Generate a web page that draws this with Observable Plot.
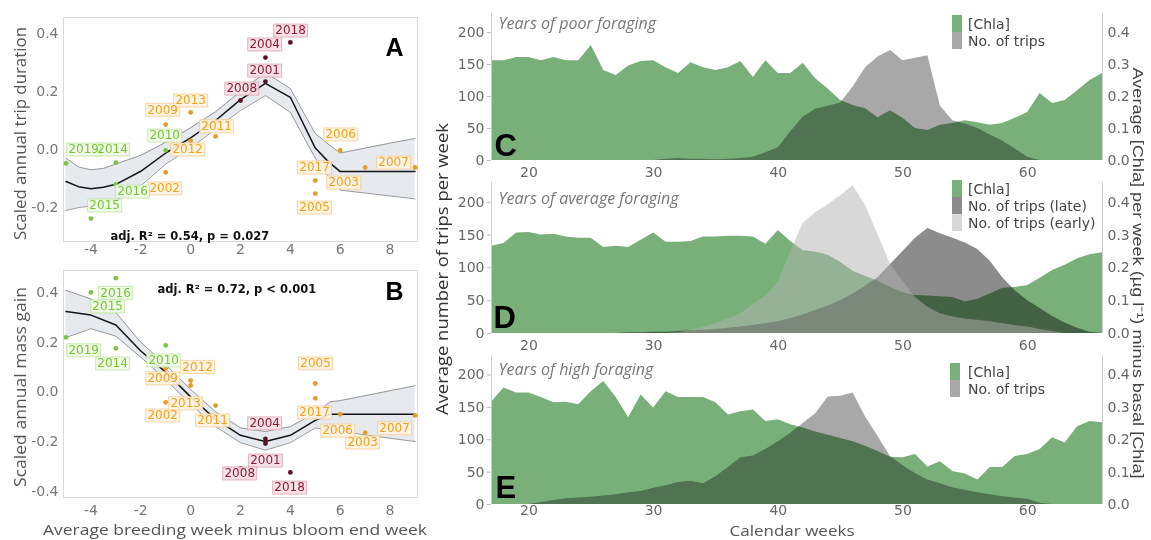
<!DOCTYPE html>
<html>
<head>
<meta charset="utf-8">
<script src="https://cdn.jsdelivr.net/npm/d3@7"></script>
<script src="https://cdn.jsdelivr.net/npm/@observablehq/plot@0.6"></script>
<style>
  body { margin: 0; background: #fff; }
  #root { position: relative; width: 1151px; height: 540px; overflow: hidden; background: #fff; }
</style>
</head>
<body>
<div id="root"></div>
<script>
// ---------------- DATA: panels A & B ----------------
const years     = [2001,2002,2003,2004,2005,2006,2007,2008,2009,2010,2011,2012,2013,2014,2015,2016,2017,2018,2019];
const foraging  = ["late","avg","avg","late","avg","avg","avg","late","avg","early","avg","avg","avg","early","early","early","avg","late","early"];
const weekDiff  = [3,-1,7,3,5,6,9,2,-1,-1,1,0,0,-3,-4,-3,5,4,-5];
const tripDur   = [0.234,-0.079,-0.062,0.317,-0.152,-0.003,-0.062,0.169,0.086,-0.003,0.045,0.03,0.128,-0.045,-0.238,-0.12,-0.107,0.369,-0.048];
const massGain  = [-0.208,-0.042,-0.164,-0.19,0.034,-0.09,-0.095,-0.309,0.095,0.188,-0.055,0.046,0.026,0.176,0.402,0.459,-0.026,-0.325,0.22];

const fitA_x   = [-5,-4.5,-4,-3.5,-3,-2,-1,0,1,2,3,4,5,5.5,6,7,8,9];
const fitA_mid = [-0.11,-0.128,-0.135,-0.13,-0.12,-0.075,-0.012,0.04,0.1,0.172,0.228,0.18,0.005,-0.04,-0.076,-0.076,-0.076,-0.076];
const fitA_up  = [-0.03,-0.06,-0.07,-0.065,-0.05,-0.02,0.025,0.075,0.13,0.2,0.265,0.21,0.055,0.02,-0.012,0.005,0.022,0.038];
const fitA_lo  = [-0.21,-0.2,-0.195,-0.185,-0.175,-0.125,-0.05,0.005,0.07,0.135,0.186,0.128,-0.03,-0.09,-0.14,-0.15,-0.16,-0.17];

const fitB_x   = [-5,-4,-3,-2,-1,0,1,2,3,4,5,5.6,6,7,8,9];
const fitB_mid = [0.325,0.31,0.27,0.165,0.08,-0.02,-0.11,-0.175,-0.2,-0.175,-0.115,-0.09,-0.09,-0.09,-0.09,-0.09];
const fitB_up  = [0.41,0.375,0.32,0.2,0.11,0.01,-0.08,-0.145,-0.16,-0.14,-0.085,-0.04,-0.035,-0.015,0.005,0.025];
const fitB_lo  = [0.22,0.255,0.225,0.14,0.05,-0.05,-0.14,-0.205,-0.235,-0.205,-0.145,-0.155,-0.16,-0.173,-0.187,-0.2];

const breedTicks = [-4,-2,0,2,4,6,8];
const durTicks   = [-0.2,0,0.2,0.4];
const gainTicks  = [-0.4,-0.2,0,0.2,0.4];
const statA = "adj. R\u00b2 = 0.54, p = 0.027";
const statB = "adj. R\u00b2 = 0.72, p < 0.001";

// ---------------- DATA: panels C, D, E ----------------
const calendarWeeks = [17,18,19,20,21,22,23,24,25,26,27,28,29,30,31,32,33,34,35,36,37,38,39,40,41,42,43,44,45,46,47,48,49,50,51,52,53,54,55,56,57,58,59,60,61,62,63,64,65,66];

const chlaPoor  = [.312,.312,.322,.322,.312,.322,.312,.312,.36,.282,.266,.296,.31,.312,.29,.272,.306,.29,.282,.29,.31,.26,.312,.272,.272,.304,.256,.224,.188,.172,.162,.134,.156,.132,.1,.094,.11,.116,.124,.118,.11,.116,.132,.15,.21,.178,.188,.218,.25,.272];
const tripsPoor = [0,0,0,0,0,0,0,0,0,0,0,0,0,0,2,3,2,2,1,2,3,5,12,20,45,68,80,85,90,115,145,162,172,156,160,164,85,62,57,50,40,30,18,5,0,0,0,0,0,0];

const chlaAvg    = [.266,.274,.306,.308,.3,.302,.294,.29,.29,.262,.266,.262,.284,.306,.278,.278,.28,.294,.294,.296,.296,.294,.272,.314,.28,.252,.248,.238,.216,.19,.174,.16,.14,.124,.116,.114,.112,.11,.096,.104,.12,.138,.14,.146,.168,.192,.208,.228,.24,.246];
const tripsLate  = [0,0,0,0,0,0,0,0,0,0,0,1,1,2,2,3,4,5,6,8,10,12,15,18,23,28,35,42,50,60,72,85,105,125,145,160,152,145,138,128,110,85,65,50,38,26,16,8,2,0];
const tripsEarly = [0,0,0,0,0,0,0,0,0,0,0,0,0,0,0,1,5,10,15,22,30,45,57,78,125,168,184,196,210,225,195,150,105,80,55,40,30,25,22,20,18,15,12,10,6,3,0,0,0,0];

const chlaHigh  = [.316,.36,.344,.344,.33,.314,.316,.308,.348,.38,.33,.268,.338,.298,.348,.33,.33,.33,.314,.276,.286,.292,.256,.262,.246,.236,.224,.214,.204,.194,.18,.164,.146,.144,.154,.116,.132,.102,.094,.076,.114,.114,.148,.154,.17,.206,.19,.24,.256,.252];
const tripsHigh = [0,0,0,0,3,6,9,10,11,13,15,18,20,25,29,34,36,32,43,57,72,75,85,97,110,125,140,166,167,172,135,105,74,60,48,38,32,26,22,18,15,12,10,8,2,0,0,0,0,0];

const tripTicks = [0,50,100,150,200];
const chlaTicks = [0,0.1,0.2,0.3,0.4];
const weekTicks = [20,30,40,50,60];

// ---------------- LAYOUT / STYLE ----------------
const CHLA_FACTOR = 500;          // secondary axis: 0.1 µg/l  <->  50 trips
const weekDomain = [17, 66];
const palette = {
  early: {point: "#7cc444", text: "#76c634", box: "#effae6", border: "#bfe5a0"},
  avg:   {point: "#e99b2a", text: "#f3a11a", box: "#fff3e0", border: "#f6cd92"},
  late:  {point: "#5a1224", text: "#8a1c3a", box: "#f6dde3", border: "#dca5b3"}
};
// label placement (ggrepel-like), in data units of each panel
const labelPosA = {2001:[2.97,0.272],2002:[-1.04,-0.134],2003:[6.14,-0.114],2004:[2.97,0.362],2005:[4.97,-0.2],2006:[6.02,0.052],2007:[8.14,-0.045],2008:[2.05,0.21],2009:[-1.12,0.137],2010:[-1.04,0.048],2011:[1.04,0.08],2012:[-0.12,0.0],2013:[0.0,0.169],2014:[-3.13,0.0],2015:[-3.45,-0.193],2016:[-2.33,-0.145],2017:[4.97,-0.062],2018:[4.01,0.41],2019:[-4.29,0.0]};
const labelPosB = {2001:[3.0,-0.277],2002:[-1.12,-0.095],2003:[6.9,-0.204],2004:[2.97,-0.127],2005:[5.01,0.115],2006:[5.9,-0.156],2007:[8.18,-0.147],2008:[1.97,-0.329],2009:[-1.12,0.055],2010:[-1.08,0.127],2011:[0.88,-0.115],2012:[0.28,0.101],2013:[-0.2,-0.046],2014:[-3.13,0.115],2015:[-3.33,0.345],2016:[-3.01,0.4],2017:[4.97,-0.083],2018:[3.97,-0.386],2019:[-4.29,0.168]};

const labelBox = { draw(ctx) { ctx.rect(-17, -6.5, 34, 13); } };

const root = document.getElementById("root");
function place(svg, left, top) {
  svg.style.position = "absolute";
  svg.style.left = left + "px";
  svg.style.top = top + "px";
  root.appendChild(svg);
}

const pts = years.map((yr, i) => ({year: yr, group: foraging[i], x: weekDiff[i], dur: tripDur[i], gain: massGain[i]}));

function yearPanel(cfg) {
  const rows = pts.map(d => ({...d, y: d[cfg.valueKey], lx: cfg.labelPos[d.year][0], ly: cfg.labelPos[d.year][1]}));
  const fit = cfg.fx.map((x, i) => ({x, mid: cfg.fmid[i], up: cfg.fup[i], lo: cfg.flo[i]}));
  return Plot.plot({
    width: 430, height: cfg.height,
    marginLeft: 63, marginRight: 13, marginTop: cfg.marginTop, marginBottom: cfg.marginBottom,
    style: {fontFamily: "DejaVu Sans", fontSize: "14px", color: "#777", background: "transparent", overflow: "visible"},
    x: {domain: [-5.1, 9.1]},
    y: {domain: cfg.yDomain},
    color: {type: "identity"},
    marks: [
      Plot.frame({stroke: "#dadada"}),
      Plot.areaY(fit, {x: "x", y1: "lo", y2: "up", fill: "#e6e9ed"}),
      Plot.line(fit, {x: "x", y: "up", stroke: "#8c8c8c", strokeWidth: 0.9}),
      Plot.line(fit, {x: "x", y: "lo", stroke: "#8c8c8c", strokeWidth: 0.9}),
      Plot.line(fit, {x: "x", y: "mid", stroke: "#141414", strokeWidth: 1.5}),
      Plot.dot(rows, {x: "x", y: "y", r: 2.4, fill: d => palette[d.group].point, stroke: null}),
      Plot.dot(rows, {x: "lx", y: "ly", symbol: labelBox, fill: d => palette[d.group].box, stroke: d => palette[d.group].border, strokeWidth: 0.8, fillOpacity: 0.9}),
      Plot.text(rows, {x: "lx", y: "ly", text: d => String(d.year), fill: d => palette[d.group].text, fontSize: 12, fontFamily: "DejaVu Sans"}),
      Plot.text([cfg.stat], {text: d => d, frameAnchor: cfg.statAnchor, dx: cfg.statDx, dy: cfg.statDy, fontSize: 11.5, fontWeight: "bold", fontFamily: "DejaVu Sans", fill: "#111"}),
      Plot.text([cfg.letter], {text: d => d, frameAnchor: "top-right", dx: -14, dy: cfg.letterDy, fontSize: 25, fontWeight: "bold", fontFamily: "Liberation Sans", fill: "#000"}),
      Plot.axisX(breedTicks, {tickSize: 0, tickPadding: cfg.xPad, tickFormat: d => String(d), label: null}),
      Plot.axisY(cfg.yTicks, {tickSize: 0, tickPadding: 5, tickFormat: d => d.toFixed(1), label: null})
    ]
  });
}

place(yearPanel({
  valueKey: "dur", labelPos: labelPosA, fx: fitA_x, fmid: fitA_mid, fup: fitA_up, flo: fitA_lo,
  height: 262, marginTop: 17, marginBottom: 21, yDomain: [-0.317, 0.455], yTicks: durTicks,
  stat: statA, statAnchor: "bottom-left", statDx: 47, statDy: -2, letter: "A", letterDy: 21, xPad: 3
}), 0, 0);

place(yearPanel({
  valueKey: "gain", labelPos: labelPosB, fx: fitB_x, fmid: fitB_mid, fup: fitB_up, flo: fitB_lo,
  height: 282, marginTop: 12, marginBottom: 43, yDomain: [-0.426, 0.49], yTicks: gainTicks,
  stat: statB, statAnchor: "top-left", statDx: 94, statDy: 14, letter: "B", letterDy: 12, xPad: 8
}), 0, 258);

function areaPanel(cfg) {
  const rows = calendarWeeks.map((w, i) => {
    const r = {week: w};
    for (const L of cfg.layers) r[L.key] = L.scale ? L.values[i] * L.scale : L.values[i];
    return r;
  });
  return Plot.plot({
    width: 721, height: cfg.height,
    marginLeft: 61, marginRight: 49, marginTop: cfg.marginTop, marginBottom: cfg.marginBottom,
    style: {fontFamily: "DejaVu Sans", fontSize: "14px", color: "#666", background: "transparent", overflow: "visible"},
    x: {domain: weekDomain},
    y: {domain: [0, 230]},
    marks: [
      ...cfg.layers.map(L => Plot.areaY(rows, {x: "week", y: L.key, fill: L.fill, fillOpacity: L.opacity ?? 1, mixBlendMode: L.blend ?? "normal"})),
      Plot.ruleX([weekDomain[0], weekDomain[1]], {stroke: "#cfcfcf", strokeWidth: 1}),
      Plot.axisY(tripTicks, {anchor: "left", tickSize: 4, tickPadding: 3, stroke: "#bbb", fill: "#666", label: null}),
      Plot.axisY(chlaTicks.map(v => v * CHLA_FACTOR), {anchor: "right", tickSize: 0, tickPadding: 5, fill: "#666", tickFormat: d => (d / CHLA_FACTOR).toFixed(1), label: null}),
      Plot.axisX(weekTicks, {tickSize: 0, tickPadding: cfg.xPad ?? 7, fill: "#666", label: null}),
      Plot.text([cfg.subtitle], {text: d => d, frameAnchor: "top-left", dx: 7, dy: cfg.subDy, fontStyle: "italic", fontFamily: "Open Sans", fontSize: 16, fill: "#777"}),
      Plot.text([cfg.letter], {text: d => d, frameAnchor: "bottom-left", dx: cfg.letterDx, dy: cfg.letterDy, fontSize: 31, fontWeight: "bold", fontFamily: "Liberation Sans", fill: "#000"})
    ]
  });
}

const GREEN = "#79b07a";
place(areaPanel({
  height: 182, marginTop: 13, marginBottom: 22,
  layers: [
    {key: "chla", values: chlaPoor, scale: CHLA_FACTOR, fill: GREEN},
    {key: "trips", values: tripsPoor, fill: "#a8a8a8", blend: "multiply"}
  ],
  subtitle: "Years of poor foraging", subDy: 4, letter: "C", letterDx: 3, letterDy: -5
}), 430, 0);

place(areaPanel({
  height: 185, marginTop: 12, marginBottom: 22,
  layers: [
    {key: "chla", values: chlaAvg, scale: CHLA_FACTOR, fill: GREEN},
    {key: "late", values: tripsLate, fill: "#8c8c8c", blend: "multiply"},
    {key: "early", values: tripsEarly, fill: "#b1b1b1", opacity: 0.5}
  ],
  subtitle: "Years of average foraging", subDy: 10, letter: "D", letterDx: 2, letterDy: -6
}), 430, 170);

place(areaPanel({
  height: 200, marginTop: 15, marginBottom: 36, xPad: 1,
  layers: [
    {key: "chla", values: chlaHigh, scale: CHLA_FACTOR, fill: GREEN},
    {key: "trips", values: tripsHigh, fill: "#a8a8a8", blend: "multiply"}
  ],
  subtitle: "Years of high foraging", subDy: 8, letter: "E", letterDx: 4, letterDy: -7
}), 430, 340);

// ---------------- axis titles & legends (text overlay) ----------------
const legends = [
  {x: 952, y: 15, items: [["[Chla]", GREEN], ["No. of trips", "#a8a8a8"]]},
  {x: 952, y: 180, items: [["[Chla]", GREEN], ["No. of trips (late)", "#8c8c8c"], ["No. of trips (early)", "#d8d8d8"]]},
  {x: 950, y: 363, items: [["[Chla]", GREEN], ["No. of trips", "#a8a8a8"]]}
];
let legendSvg = "";
for (const lg of legends) {
  lg.items.forEach(([label, col], i) => {
    const y0 = lg.y + i * 17;
    legendSvg += `<rect x="${lg.x}" y="${y0}" width="10" height="17" fill="${col}"/>`;
    legendSvg += `<text x="968" y="${y0 + 8.5}" dominant-baseline="central" font-family="DejaVu Sans" font-size="14" fill="#444">${label}</text>`;
  });
}
const ov = document.createElement("div");
ov.innerHTML = `<svg xmlns="http://www.w3.org/2000/svg" width="1151" height="540" style="position:absolute;left:0;top:0;pointer-events:none">
  <text transform="translate(19,133.5) rotate(-90)" text-anchor="middle" dominant-baseline="central" textLength="213" lengthAdjust="spacingAndGlyphs" font-family="Open Sans" font-size="17" fill="#555">Scaled annual trip duration</text>
  <text transform="translate(19,387) rotate(-90)" text-anchor="middle" dominant-baseline="central" textLength="200" lengthAdjust="spacingAndGlyphs" font-family="Open Sans" font-size="17" fill="#555">Scaled annual mass gain</text>
  <text x="235" y="535" text-anchor="middle" textLength="384" lengthAdjust="spacingAndGlyphs" font-family="Open Sans" font-size="15" fill="#555">Average breeding week minus bloom end week</text>
  <text transform="translate(441,269) rotate(-90)" text-anchor="middle" dominant-baseline="central" textLength="292" lengthAdjust="spacingAndGlyphs" font-family="Open Sans" font-size="17" fill="#333">Average number of trips per week</text>
  <text transform="translate(1138,273) rotate(90)" text-anchor="middle" dominant-baseline="central" textLength="411" lengthAdjust="spacingAndGlyphs" font-family="Liberation Sans" font-size="15" fill="#444">Average [Chla] per week (\u00b5g l\u207b\u00b9) minus basal [Chla]</text>
  <text x="792" y="536" text-anchor="middle" textLength="125" lengthAdjust="spacingAndGlyphs" font-family="Open Sans" font-size="14" fill="#555">Calendar weeks</text>
  ${legendSvg}
</svg>`;
root.appendChild(ov.firstElementChild);
</script>
</body>
</html>
